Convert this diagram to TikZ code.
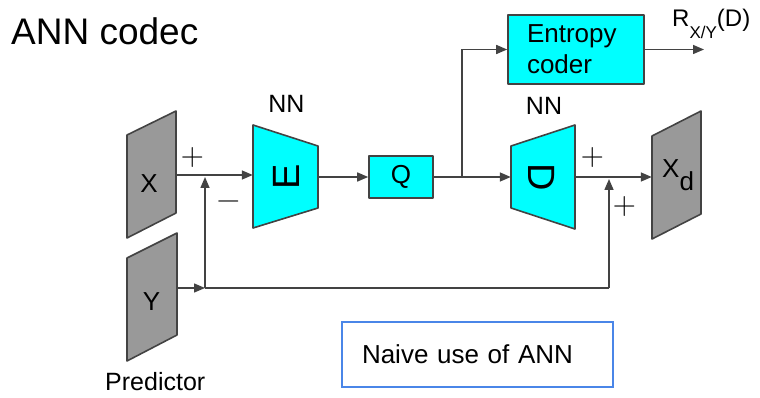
\RequirePackage{fix-cm}
\documentclass[tikz,border=0pt]{standalone}
\usepackage{fontspec}
\setmainfont{Liberation Sans}
\usetikzlibrary{arrows.meta,calc}
\definecolor{lc}{HTML}{434343}
\definecolor{gfill}{HTML}{999999}
\definecolor{cfill}{HTML}{00FFFF}
\definecolor{nblue}{HTML}{4A86E8}
\newcommand\signfont{\fontfamily{lmr}\fontsize{32}{36}\selectfont}
\tikzset{
  ln/.style={draw=lc, line width=1.5pt},
  arr/.style={ln, -{Triangle[length=11pt,width=9pt]}},
  shp/.style={draw=lc, line width=1.6pt, line join=round},
  ghost/.style={inner sep=0pt, draw=none, minimum height=100pt},
  lbl/.style={inner sep=0pt},
  sgn/.style={inner sep=0pt, font=\signfont},
}
\begin{document}
\begin{tikzpicture}[x=1pt,y=-1pt]
\useasboundingbox (0,0) rectangle (760,398);

% title
\node[lbl, anchor=base west, font=\fontsize{37}{44}\selectfont] (title) at (11,45) {ANN codec};

% shapes
\filldraw[shp, fill=gfill] (127,135) -- (176,111) -- (176,213) -- (127,238) -- cycle;
\filldraw[shp, fill=gfill] (127,258) -- (177,233) -- (177,335) -- (127,361) -- cycle;
\filldraw[shp, fill=cfill] (253,125) -- (318,146) -- (318,208) -- (253,228) -- cycle;
\filldraw[shp, fill=cfill] (511,146) -- (575,125) -- (575,229) -- (511,208) -- cycle;
\filldraw[shp, fill=gfill] (652,136) -- (701,111) -- (701,214) -- (652,239) -- cycle;

% invisible anchor nodes for the drawn shapes
\node[ghost, minimum width=49pt] (X)  at (151.5,175) {};
\node[ghost, minimum width=50pt] (Y)  at (152,288) {};
\node[ghost, minimum width=65pt] (E)  at (285.5,176) {};
\node[ghost, minimum width=64pt] (D)  at (543,177) {};
\node[ghost, minimum width=49pt] (Xd) at (676.5,177) {};

% boxes
\node[shp, fill=cfill, minimum width=64pt, minimum height=42pt, inner sep=0pt,
      font=\fontsize{26}{31}\selectfont] (Q) at (401,177) {Q};
\node[shp, fill=cfill, minimum width=136pt, minimum height=69pt, inner sep=0pt,
      text width=98pt, align=left, font=\fontsize{26}{31}\selectfont] (EC) at (576,49.5) {Entropy\\coder};
\node[draw=nblue, line width=1.3pt, minimum width=271pt, minimum height=65pt, inner sep=0pt,
      text width=231pt, align=left, font=\fontsize{26}{31}\selectfont] (note) at (477.5,354.5) {Naive use of ANN};

% labels
\node[lbl, font=\fontsize{26}{31}\selectfont] (Xlab) at (149,183.5) {X};
\node[lbl, font=\fontsize{26}{31}\selectfont] (Ylab) at (151.5,301.5) {Y};
\node[lbl, rotate=90, font=\fontsize{38}{44}\selectfont] (Elab) at (286,177) {E};
\node[lbl, rotate=-90, font=\fontsize{38}{44}\selectfont] (Dlab) at (542,177) {D};
\node[lbl, anchor=base west, font=\fontsize{26}{30}\selectfont] (Xdlab) at (662,178) {X\raisebox{-13pt}{d}};
\node[lbl, anchor=base, font=\fontsize{25}{30}\selectfont] (NN1) at (286.5,113) {NN};
\node[lbl, anchor=base, font=\fontsize{25}{30}\selectfont] (NN2) at (544,115) {NN};
\node[lbl, anchor=base west, font=\fontsize{25}{30}\selectfont] (pred) at (105,390) {Predictor};
\node[lbl, anchor=base west, font=\fontsize{24}{28}\selectfont] (rate) at (672,27)
  {R\raisebox{-12pt}{\fontsize{17}{20}\selectfont X/Y}(D)};

% signs
\node[sgn] (p1) at (192.5,157.5) {+};
\node[sgn] (m1) at (228.5,205) {−};
\node[sgn] (p2) at (592.5,158) {+};
\node[sgn] (p3) at (624.5,206.5) {+};

% junction coordinates
\coordinate (j1) at (205,288);
\coordinate (j2) at (609,288);
\coordinate (b) at (462,177);
\coordinate (out) at (704,48);

% connectors
\draw[arr] (X.east) -- (X.east -| E.west);
\draw[arr] (E.east |- Q.west) -- (Q.west);
\draw[arr] (Q.east) -- (D.west);
\draw[arr] (D.east) -- (Xd.west);
\draw[arr] (b) |- (EC.west);
\draw[arr] (EC.east) -- (EC.east -| out);
\draw[arr] (Y.east) -- (j1);
\draw[ln] (j1) -- (j2);
\draw[arr, shorten >=2pt] (j1) -- (j1 |- X.east);
\draw[arr, shorten >=2pt] (j2) -- (j2 |- D.east);
\end{tikzpicture}
\end{document}
